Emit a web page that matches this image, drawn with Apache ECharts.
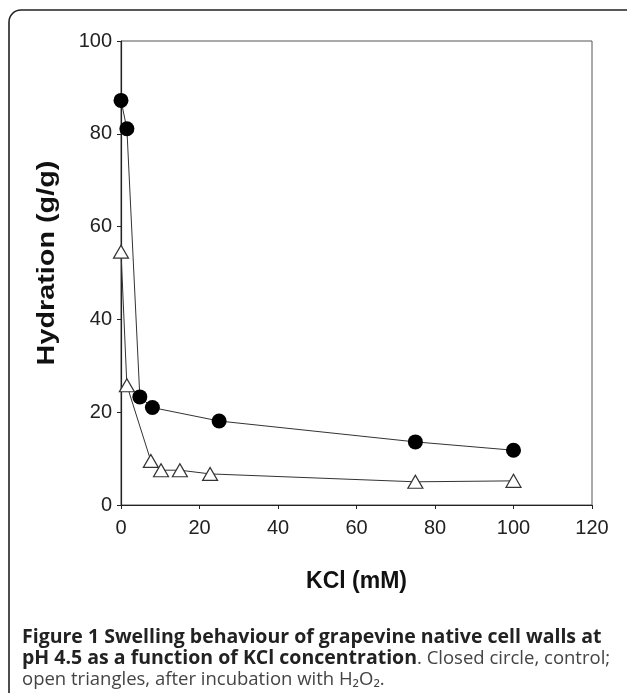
<!DOCTYPE html>
<html>
<head>
<meta charset="utf-8">
<script src="https://cdn.jsdelivr.net/npm/echarts@6/dist/echarts.min.js"></script>
<style>
  html, body { margin: 0; padding: 0; background: #fff; }
  #chart { width: 627px; height: 693px; }
</style>
</head>
<body>
<div id="chart"></div>
<script>
// 数据：KCl浓度 (mM) 与水合度 (g/g)
var controlKcl = [0, 1.5, 4.8, 8, 25, 75, 100];
var controlHyd = [87.2, 81.1, 23.3, 21.0, 18.1, 13.6, 11.8];
var h2o2Kcl = [0, 1.5, 7.6, 10.2, 15, 22.7, 75, 100];
var h2o2Hyd = [54.6, 25.8, 9.5, 7.5, 7.5, 6.7, 5.0, 5.2];
var xTicks = [0, 20, 40, 60, 80, 100, 120];
var yTicks = [0, 20, 40, 60, 80, 100];

function pairs(xs, ys) {
  var out = [];
  for (var i = 0; i < xs.length; i++) {
    out.push([xs[i], ys[i]]);
  }
  return out;
}

var myChart = echarts.init(document.getElementById('chart'), null, { renderer: 'canvas' });

var tickFont = {
  color: '#222',
  fontSize: 20,
  fontFamily: 'Liberation Sans, Arial, sans-serif'
};

var option = {
  backgroundColor: '#fff',
  animation: false,
  grid: {
    left: 121,
    top: 41,
    right: 35,
    bottom: 188,
    show: true,
    borderColor: '#555',
    borderWidth: 1
  },
  xAxis: {
    type: 'value',
    min: xTicks[0],
    max: xTicks[xTicks.length - 1],
    interval: 20,
    name: 'KCl (mM)',
    nameLocation: 'middle',
    nameGap: 65,
    nameTextStyle: {
      color: '#111',
      fontSize: 23,
      fontWeight: 'bold',
      fontFamily: 'Liberation Sans, Arial, sans-serif'
    },
    axisLine: { lineStyle: { color: '#222', width: 1.2 } },
    axisTick: { show: true, inside: false, length: 4, lineStyle: { color: '#222' } },
    axisLabel: Object.assign({ margin: 13 }, tickFont),
    splitLine: { show: false }
  },
  yAxis: {
    type: 'value',
    min: yTicks[0],
    max: yTicks[yTicks.length - 1],
    interval: 20,
    axisLine: { show: true, lineStyle: { color: '#222', width: 1.2 } },
    axisTick: { show: true, inside: false, length: 4, lineStyle: { color: '#222' } },
    axisLabel: Object.assign({ margin: 9 }, tickFont),
    splitLine: { show: false }
  },
  graphic: [
    {
      // 外框（圆角）
      type: 'rect',
      shape: { x: 9, y: 10, width: 660, height: 740, r: 12 },
      style: { fill: 'none', stroke: '#222', lineWidth: 1.6 },
      silent: true
    },
    {
      // y轴标题（原图纵向拉长）
      type: 'text',
      x: 47,
      y: 263,
      rotation: Math.PI / 2,
      scaleX: 1.2,
      style: {
        text: 'Hydration (g/g)',
        fill: '#111',
        fontSize: 24,
        fontWeight: 'bold',
        fontFamily: 'Liberation Sans, Arial, sans-serif',
        align: 'center',
        verticalAlign: 'middle'
      },
      silent: true
    },
    {
      type: 'text',
      left: 22,
      top: 627,
      style: {
        text: '{b|Figure 1 Swelling behaviour of grapevine native cell walls at}\n' +
              '{b|pH 4.5 as a function of KCl concentration}{r|. Closed circle, control;}\n' +
              '{r|open triangles, after incubation with H₂O₂.}',
        rich: {
          b: {
            fontFamily: 'Open Sans, sans-serif',
            fontWeight: 'bold',
            fontSize: 19.5,
            lineHeight: 21.5,
            fill: '#222'
          },
          r: {
            fontFamily: 'Open Sans, sans-serif',
            fontSize: 18.5,
            lineHeight: 21.5,
            fill: '#444'
          }
        }
      }
    }
  ],
  series: [
    {
      name: 'H2O2',
      type: 'line',
      data: pairs(h2o2Kcl, h2o2Hyd),
      symbol: 'triangle',
      symbolSize: [15, 13],
      lineStyle: { color: '#333', width: 1 },
      itemStyle: { color: '#fff', borderColor: '#333', borderWidth: 1.2 },
      z: 3
    },
    {
      name: 'control',
      type: 'line',
      data: pairs(controlKcl, controlHyd),
      symbol: 'circle',
      symbolSize: 15,
      lineStyle: { color: '#333', width: 1 },
      itemStyle: { color: '#000', borderColor: '#000', borderWidth: 0 },
      z: 2
    }
  ]
};

myChart.setOption(option);
</script>
</body>
</html>
